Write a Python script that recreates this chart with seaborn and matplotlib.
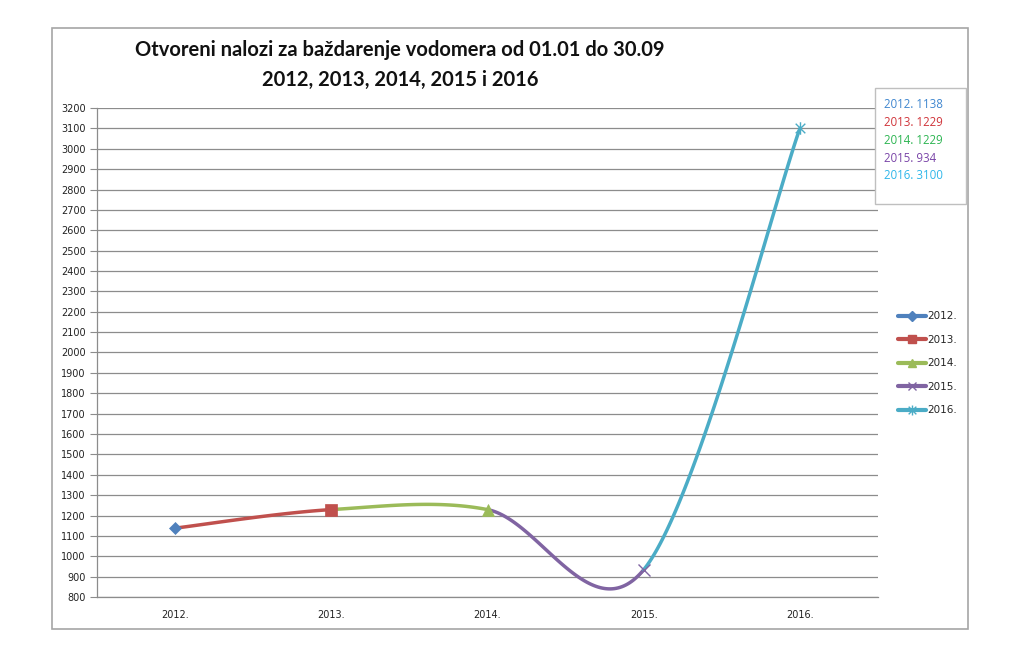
import numpy as np
import pandas as pd
import matplotlib
matplotlib.use("Agg")
import matplotlib.pyplot as plt
from matplotlib.lines import Line2D
from matplotlib.path import Path
from matplotlib.patches import Rectangle
import seaborn as sns

# ---- data ----
years = ["2012.", "2013.", "2014.", "2015.", "2016."]
values = [1138, 1229, 1229, 934, 3100]
colors = ["#4F81BD", "#C0504D", "#9BBB59", "#8064A2", "#4BACC6"]
label_colors = ["#3F86CF", "#D0343A", "#2DB552", "#7A45A8", "#2EB6EA"]
title = "Otvoreni nalozi za baždarenje vodomera od 01.01 do 30.09\n2012, 2013, 2014, 2015 i 2016"
yticks = list(range(800, 3201, 100))

sns.set_style("white")
plt.rcParams['font.family'] = ['DejaVu Sans']

fig = plt.figure(figsize=(10.24, 6.6), dpi=100)
W, H = 1024, 660
ax = fig.add_axes([97 / W, 1 - 597 / H, (878 - 97) / W, (597 - 108) / H])

# outer chart border
fig.patches.append(Rectangle((52 / W, 1 - 629 / H), (968 - 52) / W, (629 - 28) / H,
                             transform=fig.transFigure, fill=False,
                             edgecolor="#A6A6A6", linewidth=1.2))

# Excel-like smoothed (bezier) segments between consecutive points
xs = np.arange(len(values), dtype=float)
ys = np.array(values, dtype=float)
rows = []
n = len(xs)
for i in range(n - 1):
    pm = i - 1 if i > 0 else 0
    pp = i + 2 if i + 2 < n else n - 1
    p0 = np.array([xs[i], ys[i]])
    p3 = np.array([xs[i + 1], ys[i + 1]])
    p1 = p0 + (np.array([xs[i + 1], ys[i + 1]]) - np.array([xs[pm], ys[pm]])) / 6
    p2 = p3 - (np.array([xs[pp], ys[pp]]) - np.array([xs[i], ys[i]])) / 6
    t = np.linspace(0, 1, 80)[:, None]
    pts = (1 - t) ** 3 * p0 + 3 * (1 - t) ** 2 * t * p1 + 3 * (1 - t) * t ** 2 * p2 + t ** 3 * p3
    for k, (px, py) in enumerate(pts):
        rows.append({"seg": years[i + 1], "x": px, "y": py, "order": k})
df = pd.DataFrame(rows)
sns.lineplot(data=df, x="x", y="y", hue="seg", palette=dict(zip(years, colors)),
             sort=False, estimator=None, linewidth=2.5, legend=False, ax=ax, zorder=3)

# markers
star = Path([(-1, -1), (1, 1), (-1, 1), (1, -1), (0, -1.3), (0, 1.3)],
            [Path.MOVETO, Path.LINETO, Path.MOVETO, Path.LINETO, Path.MOVETO, Path.LINETO])
markers = ["D", "s", "^", "x", star]
msizes = [6, 8, 8, 8, 9]
for i in range(n):
    ax.plot([xs[i]], [ys[i]], marker=markers[i], color=colors[i], markersize=msizes[i],
            markeredgewidth=1.0 if i >= 3 else 0.5, linestyle="none", zorder=4)

ax.set_xlim(-0.5, 4.5)
ax.set_ylim(800, 3200)
ax.set_yticks(yticks)
ax.set_yticklabels([str(v) for v in yticks], fontsize=7, color="#222222")
ax.set_xticks(xs)
ax.set_xticklabels(years, fontsize=7, color="#222222")
ax.set_xticks(np.arange(-0.5, 4.6, 1), minor=True)
ax.tick_params(axis="x", which="major", length=0, pad=9)
ax.tick_params(axis="x", which="minor", length=5, color="#8C8C8C", direction="out")
ax.tick_params(axis="y", length=5, color="#8C8C8C", direction="out", pad=3, left=True)
ax.grid(axis="y", color="#8C8C8C", linewidth=0.9)
ax.set_axisbelow(True)
for s in ["top", "right"]:
    ax.spines[s].set_visible(False)
for s in ["left", "bottom"]:
    ax.spines[s].set_color("#8C8C8C")
    ax.spines[s].set_linewidth(0.9)
ax.set_xlabel("")
ax.set_ylabel("")

fig.text(400 / W, 1 - 65 / H, title, ha="center", va="center", fontsize=14.5,
         fontweight="bold", family=["Lato", "DejaVu Sans"], linespacing=1.65, color="#111111")

# legend
handles = [Line2D([0], [0], color=colors[i], linewidth=3, marker=markers[i],
                  markersize=msizes[i] * 0.8, markeredgewidth=1.0) for i in range(n)]
leg = fig.legend(handles, years, loc="upper left", bbox_to_anchor=(894 / W, 1 - 307 / H),
                 frameon=False, fontsize=7.5, handlelength=2.7, handletextpad=0.1,
                 labelspacing=1.3, borderaxespad=0)

# value box
fig.patches.append(Rectangle((875 / W, 1 - 204 / H), (966 - 875) / W, (204 - 88) / H,
                             transform=fig.transFigure, fill=True, facecolor="white",
                             edgecolor="#BFBFBF", linewidth=1.0))
for i in range(n):
    fig.text(884 / W, 1 - (104 + 18 * i) / H, f"{years[i]} {values[i]}",
             color=label_colors[i], fontsize=8.3, va="center", ha="left",
             family=["Open Sans", "DejaVu Sans"])

fig.savefig("out.png", dpi=100, facecolor="white")
